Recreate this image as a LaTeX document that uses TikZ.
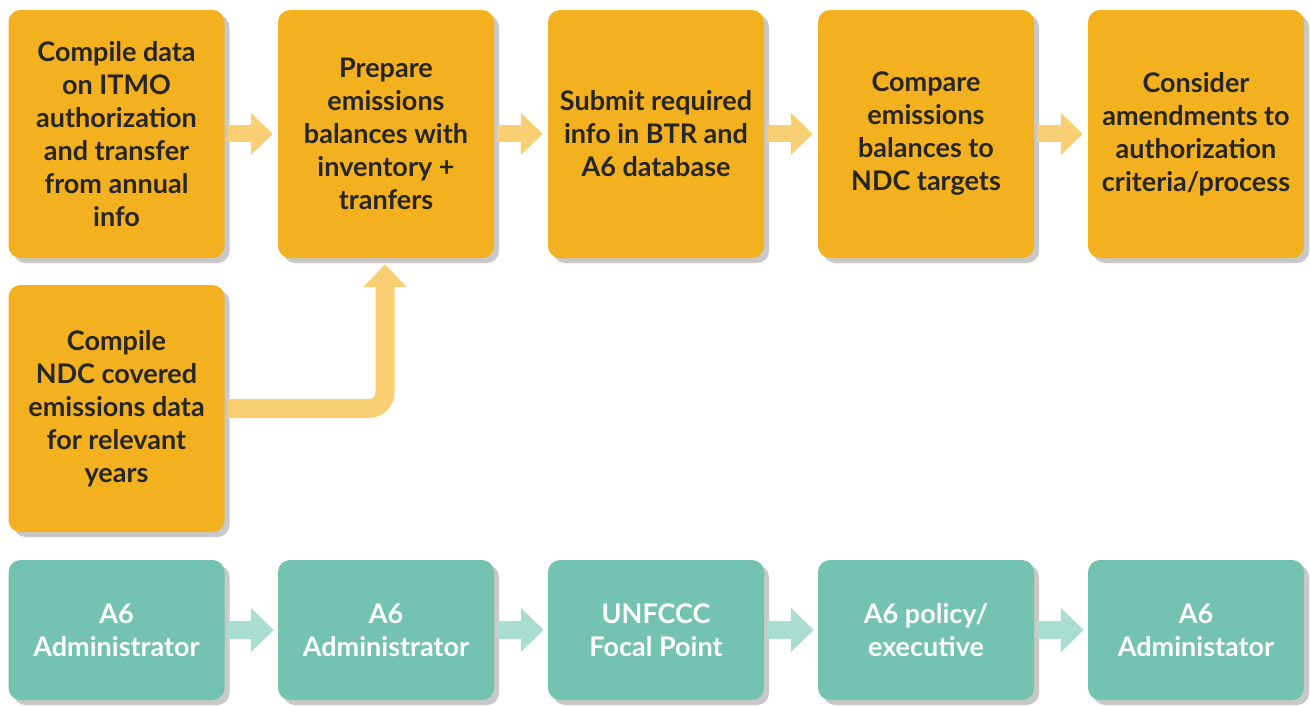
\documentclass[tikz,border=0pt]{standalone}
\usepackage{fontspec}
\setmainfont{Lato}
\usetikzlibrary{arrows.meta, shadows, positioning}
\definecolor{boxorange}{HTML}{F4B11F}
\definecolor{boxteal}{HTML}{74C3B0}
\definecolor{arrowyellow}{HTML}{F9CF74}
\definecolor{arrowteal}{HTML}{A8DDCF}
\definecolor{shadowgrey}{HTML}{C8C8C8}
\definecolor{textdark}{HTML}{262626}

\tikzset{
	stepbox/.style={rounded corners=12pt, minimum width=216pt, inner sep=0pt,
		align=center, font=\fontsize{27}{33}\selectfont\bfseries,
		drop shadow={shadow xshift=5pt, shadow yshift=-5pt, fill=shadowgrey, opacity=1}},
	taskbox/.style={stepbox, fill=boxorange, text=textdark, minimum height=248pt},
	rolebox/.style={stepbox, fill=boxteal, text=white, minimum height=140pt},
	yarrow/.style={draw=arrowyellow, line width=17pt, -{Triangle[length=22pt,width=41pt]}},
	tarrow/.style={draw=arrowteal, line width=18pt, -{Triangle[length=23pt,width=43pt]}}
}

\begin{document}
\begin{tikzpicture}[x=1pt, y=-1pt]
	\useasboundingbox (0,0) rectangle (1310,706);

	% tasks
	\node[taskbox] (T1) at (116.5,134) {Compile data\\on ITMO\\authorization\\and transfer\\from annual\\info};
	\node[taskbox] (T2) at (386,134) {Prepare\\emissions\\balances with\\inventory +\\tranfers};
	\node[taskbox] (T3) at (656,134) {Submit required\\info in BTR and\\A6 database};
	\node[taskbox] (T4) at (926,134) {Compare\\emissions\\balances to\\NDC targets};
	\node[taskbox] (T5) at (1196,134) {Consider\\amendments to\\authorization\\criteria/process};
	\node[taskbox, minimum height=247pt] (T6) at (116.5,408.5) {Compile\\NDC covered\\emissions data\\for relevant\\years};

	% roles
	\node[rolebox] (R1) at (116.5,630) {A6\\Administrator};
	\node[rolebox] (R2) at (386,630) {A6\\Administrator};
	\node[rolebox] (R3) at (656,630) {UNFCCC\\Focal Point};
	\node[rolebox] (R4) at (926,630) {A6 policy/\\executive};
	\node[rolebox] (R5) at (1196,630) {A6\\Administator};

	% flow
	\draw[yarrow] ([xshift=3pt]T1.east) -- ([xshift=-5pt]T2.west);
	\draw[yarrow] ([xshift=3pt]T2.east) -- ([xshift=-5pt]T3.west);
	\draw[yarrow] ([xshift=3pt]T3.east) -- ([xshift=-5pt]T4.west);
	\draw[yarrow] ([xshift=3pt]T4.east) -- ([xshift=-5pt]T5.west);
	\draw[yarrow, line width=19pt, -{Triangle[length=23pt,width=42pt]}, rounded corners=16pt]
		([xshift=3pt]T6.east) -| ([xshift=-1pt, yshift=-6pt]T2.south);

	\draw[tarrow] ([xshift=3pt]R1.east) -- ([xshift=-4pt]R2.west);
	\draw[tarrow] ([xshift=3pt]R2.east) -- ([xshift=-4pt]R3.west);
	\draw[tarrow] ([xshift=3pt]R3.east) -- ([xshift=-4pt]R4.west);
	\draw[tarrow] ([xshift=3pt]R4.east) -- ([xshift=-4pt]R5.west);
\end{tikzpicture}
\end{document}
